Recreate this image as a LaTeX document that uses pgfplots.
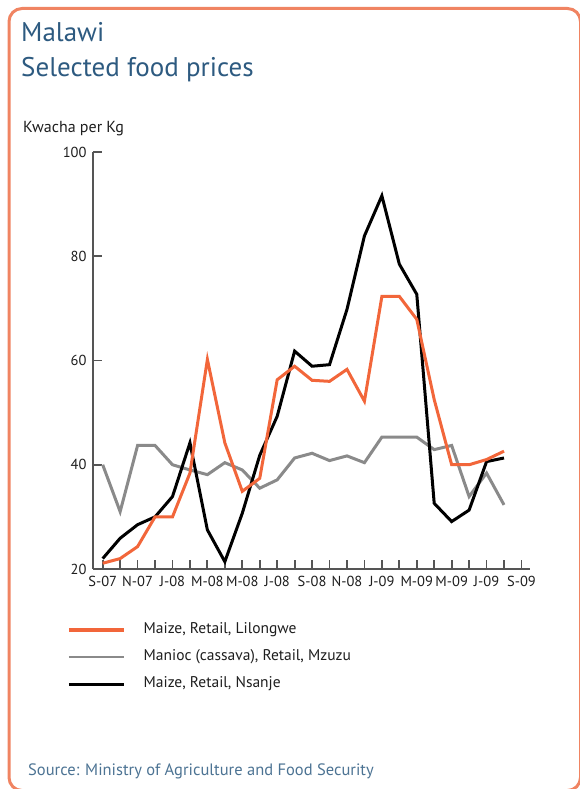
\documentclass[border=0pt]{standalone}
\usepackage{fontspec}
\setmainfont{PT Sans}
\usepackage{pgfplots}
\pgfplotsset{compat=1.18}
\definecolor{frameor}{HTML}{F08462}
\definecolor{lineor}{HTML}{F2663A}
\definecolor{linegr}{HTML}{8A8A8A}
\definecolor{titlebl}{HTML}{2D5A80}
\definecolor{axgr}{HTML}{555555}
\definecolor{txtgr}{HTML}{1E1E1E}

\pgfplotstableread{
i lil mzu nsa
0 21.1 40.0 22.0
1 22.0 31.0 25.9
2 24.3 43.7 28.5
3 30.0 43.7 30.0
4 30.0 40.0 33.9
5 38.4 39.0 44.2
6 60.2 38.1 27.5
7 44.2 40.4 21.4
8 34.9 39.0 30.7
9 37.4 35.5 41.8
10 56.3 37.1 49.3
11 58.9 41.3 61.8
12 56.2 42.2 58.9
13 56.0 40.8 59.2
14 58.3 41.7 69.8
15 52.2 40.4 83.9
16 72.3 45.3 91.6
17 72.3 45.3 78.5
18 67.9 45.3 72.7
19 52.5 42.9 32.6
20 40.0 43.7 29.1
21 40.0 33.9 31.3
22 41.0 38.4 40.6
23 42.6 32.3 41.3
}\prices

\begin{document}
\begin{tikzpicture}[x=1pt,y=1pt]
\path[use as bounding box] (0,0) rectangle (579,789);
\draw[frameor, line width=3pt, rounded corners=13pt] (9,-1.5) rectangle (580.5,780.5);
\node[anchor=base west, inner sep=0pt, text=titlebl, font=\fontsize{27}{30}\selectfont] at (21,747) {Malawi};
\node[anchor=base west, inner sep=0pt, text=titlebl, font=\fontsize{27}{30}\selectfont] at (21,712) {Selected food prices};
\node[anchor=base west, inner sep=0pt, text=txtgr, font=\fontsize{16}{18}\selectfont] at (23,656) {Kwacha per Kg};
\node[anchor=base west, inner sep=0pt, text=titlebl!85!white, font=\fontsize{16.5}{18}\selectfont] at (28,13) {Source: Ministry of Agriculture and Food Security};
\begin{axis}[
  at={(93pt,220pt)}, anchor=south west,
  scale only axis, width=437pt, height=417pt,
  xmin=-0.556, xmax=24.49, ymin=20, ymax=100,
  axis x line=bottom, axis y line=left,
  axis line style={-, axgr, line width=2.2pt},
  tick align=inside,
  major tick length=9pt,
  tick style={axgr, line width=1.8pt},
  xtick={0,...,24},
  xticklabels={S-07,,N-07,,J-08,,M-08,,M-08,,J-08,,S-08,,N-08,,J-09,,M-09,,M-09,,J-09,,S-09},
  ytick={20,40,60,80,100},
  tick label style={font=\fontsize{14.5}{16}\selectfont, text=txtgr},
  xticklabel style={yshift=-4pt},
  yticklabel style={xshift=-3pt},
  /pgf/number format/assume math mode=true,
  clip=false,
  legend cell align=left,
  legend style={draw=none, fill=none, inner sep=0pt, at={(-0.0595,-0.128)}, anchor=north west,
     font=\fontsize{15.5}{17}\selectfont, text=txtgr,
     nodes={inner sep=0pt, text height=11pt, text depth=4pt},
     row sep=12pt, column sep=0pt},
  legend image code/.code={\draw[#1] (0pt,0pt) -- (55pt,0pt);},
]
\addlegendimage{lineor, line width=3.5pt}
\addlegendentry{\hspace{18pt}Maize, Retail, Lilongwe}
\addlegendimage{linegr, line width=2.2pt}
\addlegendentry{\hspace{18pt}Manioc (cassava), Retail, Mzuzu}
\addlegendimage{black, line width=3pt}
\addlegendentry{\hspace{18pt}Maize, Retail, Nsanje}
\addplot[linegr, line width=3pt, forget plot] table[x=i, y=mzu] {\prices};
\addplot[black, line width=3pt, forget plot] table[x=i, y=nsa] {\prices};
\addplot[lineor, line width=3pt, forget plot] table[x=i, y=lil] {\prices};
\end{axis}
\end{tikzpicture}
\end{document}
